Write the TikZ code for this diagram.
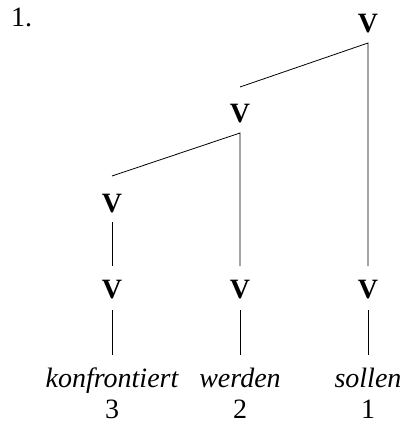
\documentclass[tikz,border=0pt]{standalone}
\usepackage{fontspec}
\setmainfont{Liberation Serif}
\begin{document}
\begin{tikzpicture}[x=1pt,y=-1pt,
  every node/.style={inner sep=0pt,font=\fontsize{28}{32}\selectfont},
  cat/.style={font=\fontsize{28}{32}\selectfont\bfseries, anchor=base},
  word/.style={font=\fontsize{28}{32}\selectfont\itshape, anchor=base},
  num/.style={anchor=base},
  edge/.style={line width=0.8pt}]
\useasboundingbox (0,0) rectangle (404,431);
\node[anchor=base west] (ex) at (11,26) {1.};
\node[cat] (v1) at (368,32) {V};
\node[cat] (v2) at (240,122) {V};
\node[cat] (v3) at (112,212) {V};
\node[cat] (l3) at (112,298) {V};
\node[cat] (l2) at (240,298) {V};
\node[cat] (l1) at (368,298) {V};
\node[word] (w3) at (112,387) {konfrontiert};
\node[word] (w2) at (240,387) {werden};
\node[word] (w1) at (368,387) {sollen};
\node[num] (n3) at (112,418) {3};
\node[num] (n2) at (240,418) {2};
\node[num] (n1) at (368,418) {1};
\draw[edge] ([yshift=35pt]v2.base) -- ([yshift=-11pt]v1.base) -- ([yshift=32pt]l1.base);
\draw[edge] ([yshift=36pt]v3.base) -- ([yshift=-11pt]v2.base) -- ([yshift=32pt]l2.base);
\draw[edge] ([yshift=-10pt]v3.base) -- ([yshift=32pt]l3.base);
\draw[edge] ([yshift=-12pt]l3.base) -- ([yshift=32pt]w3.base);
\draw[edge] ([yshift=-12pt]l2.base) -- ([yshift=32pt]w2.base);
\draw[edge] ([yshift=-12pt]l1.base) -- ([yshift=32pt]w1.base);
\end{tikzpicture}
\end{document}
